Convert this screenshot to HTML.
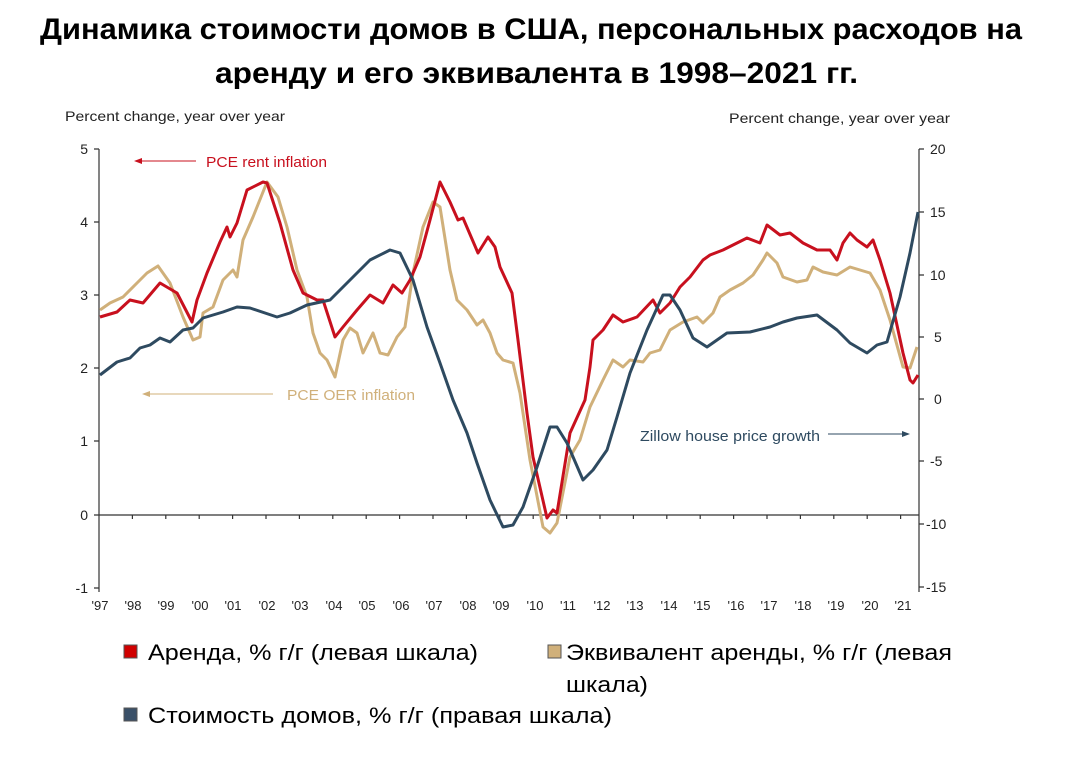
<!DOCTYPE html>
<html><head><meta charset="utf-8"><style>
body{margin:0;width:1072px;height:752px;background:#fff;overflow:hidden;font-family:"Liberation Sans",sans-serif}
</style></head><body>
<svg width="1072" height="752" xmlns="http://www.w3.org/2000/svg" font-family="Liberation Sans, sans-serif">
<text x="40" y="39" font-size="30" font-weight="bold" textLength="982" lengthAdjust="spacingAndGlyphs">Динамика стоимости домов в США, персональных расходов на</text>
<text x="215" y="83" font-size="30" font-weight="bold" textLength="643" lengthAdjust="spacingAndGlyphs">аренду и его эквивалента в 1998–2021 гг.</text>
<text x="65" y="121" font-size="14" fill="#222" textLength="220" lengthAdjust="spacingAndGlyphs">Percent change,  year over year</text>
<text x="729" y="123" font-size="14" fill="#222" textLength="221" lengthAdjust="spacingAndGlyphs">Percent change,  year over year</text>
<g stroke="#333" stroke-width="1.2" fill="none">
<line x1="99" y1="149" x2="99" y2="592"/>
<line x1="919" y1="149" x2="919" y2="592"/>
<line x1="99" y1="515" x2="919" y2="515"/>
<path d="M94 149h5M94 222h5M94 295h5M94 368h5M94 441h5M94 515h5M94 588h5"/>
<path d="M919 149h5M919 212h5M919 275h5M919 337h5M919 399h5M919 461h5M919 524h5M919 587h5"/>
<path d="M132.4 515v4M165.8 515v4M199.2 515v4M232.6 515v4M266 515v4M299.4 515v4M332.8 515v4M366.2 515v4M399.6 515v4M433 515v4M466.4 515v4M499.8 515v4M533.2 515v4M566.6 515v4M600 515v4M633.4 515v4M666.8 515v4M700.2 515v4M733.6 515v4M767 515v4M800.4 515v4M833.8 515v4M867.2 515v4M900.6 515v4"/>
</g>
<g font-size="14" fill="#222" text-anchor="end">
<text x="88" y="154">5</text><text x="88" y="227">4</text><text x="88" y="300">3</text><text x="88" y="373">2</text><text x="88" y="446">1</text><text x="88" y="520">0</text><text x="88" y="593">-1</text>
</g>
<g font-size="14" fill="#222">
<text x="930" y="154">20</text><text x="930" y="217">15</text><text x="930" y="280">10</text><text x="934" y="342">5</text><text x="934" y="404">0</text><text x="930" y="466">-5</text><text x="926" y="529">-10</text><text x="926" y="592">-15</text>
</g>
<g font-size="13" fill="#222" text-anchor="middle">
<text x="100" y="610">'97</text><text x="133" y="610">'98</text><text x="166" y="610">'99</text><text x="200" y="610">'00</text><text x="233" y="610">'01</text><text x="267" y="610">'02</text><text x="300" y="610">'03</text><text x="334" y="610">'04</text><text x="367" y="610">'05</text><text x="401" y="610">'06</text><text x="434" y="610">'07</text><text x="468" y="610">'08</text><text x="501" y="610">'09</text><text x="535" y="610">'10</text><text x="568" y="610">'11</text><text x="602" y="610">'12</text><text x="635" y="610">'13</text><text x="669" y="610">'14</text><text x="702" y="610">'15</text><text x="736" y="610">'16</text><text x="769" y="610">'17</text><text x="803" y="610">'18</text><text x="836" y="610">'19</text><text x="870" y="610">'20</text><text x="903" y="610">'21</text>
</g>
<g fill="none" stroke-width="3" stroke-linejoin="round">
<polyline stroke="#d0b07a" points="100,310 110,303 123,297 137,283 147,273 158,266 170,283 183,317 193,340 200,337 203,313 213,307 223,280 233,270 237,277 243,240 253,217 267,182 278,197 287,227 297,270 307,297 313,333 320,353 327,360 335,377 343,340 350,328 357,333 363,353 373,333 380,353 388,355 397,337 405,327 413,273 423,227 433,202 440,207 450,270 457,300 467,310 477,325 483,320 490,333 497,353 503,360 513,363 520,393 530,460 543,527 550,533 557,523 570,457 580,440 590,407 603,380 613,360 623,367 630,360 643,362 650,353 660,350 670,330 683,322 697,317 703,323 713,313 720,297 730,290 743,283 753,275 763,260 767,253 777,263 783,277 797,282 807,280 813,267 823,272 837,275 850,267 860,270 870,273 880,290 890,320 903,367 910,368 917,347"/>
<polyline stroke="#c8101e" points="100,317 117,312 130,300 143,303 160,283 177,293 192,322 197,300 207,273 220,242 227,227 230,237 237,223 247,190 263,182 267,183 280,223 293,270 303,293 317,300 323,300 335,337 343,327 357,310 370,295 383,303 393,285 402,293 410,280 420,257 430,220 440,182 450,202 458,220 463,218 478,253 488,237 495,247 500,267 512,293 518,340 527,413 533,457 547,518 553,510 557,513 570,433 585,400 590,367 593,340 603,330 613,315 623,322 637,317 653,300 660,313 670,303 680,287 690,277 703,260 710,255 723,250 737,243 747,238 760,243 767,225 780,235 790,233 803,243 817,250 830,250 837,260 843,243 850,233 857,240 867,247 873,240 880,260 890,293 903,353 910,380 913,383 918,375"/>
<polyline stroke="#2e4a60" points="100,375 117,362 130,358 140,348 150,345 160,338 170,342 183,330 193,328 203,318 223,312 237,307 250,308 277,317 290,313 307,305 330,300 343,287 357,273 370,260 390,250 400,253 413,280 427,327 440,363 453,400 467,433 477,463 490,500 503,527 513,525 523,507 537,467 550,427 557,427 567,443 583,480 593,470 607,450 617,417 630,373 647,330 663,295 670,295 680,310 693,338 707,347 727,333 750,332 770,327 783,322 797,318 817,315 837,330 850,343 867,353 877,345 887,342 900,297 910,253 918,212"/>
</g>
<g font-size="14">
<line x1="138" y1="161" x2="196" y2="161" stroke="#c8101e"/><path d="M134 161l8-3v6z" fill="#c8101e"/>
<text x="206" y="167" fill="#c8101e" font-size="15" textLength="121" lengthAdjust="spacingAndGlyphs">PCE  rent  inflation</text>
<line x1="146" y1="394" x2="273" y2="394" stroke="#d0b07a"/><path d="M142 394l8-3v6z" fill="#d0b07a"/>
<text x="287" y="400" fill="#d0b07a" font-size="15" textLength="128" lengthAdjust="spacingAndGlyphs">PCE  OER  inflation</text>
<text x="640" y="441" fill="#2e4a60" font-size="15" textLength="180" lengthAdjust="spacingAndGlyphs">Zillow  house  price  growth</text>
<line x1="828" y1="434" x2="903" y2="434" stroke="#2e4a60"/><path d="M910 434l-8-3v6z" fill="#2e4a60"/>
</g>
<g font-size="22" fill="#000">
<rect x="124" y="645" width="13" height="13" fill="#d00000" stroke="#555"/>
<text x="148" y="660" textLength="330" lengthAdjust="spacingAndGlyphs">Аренда, % г/г (левая шкала)</text>
<rect x="548" y="645" width="13" height="13" fill="#d0b07a" stroke="#555"/>
<text x="566" y="660" textLength="386" lengthAdjust="spacingAndGlyphs">Эквивалент аренды, % г/г (левая</text>
<text x="566" y="692" textLength="82" lengthAdjust="spacingAndGlyphs">шкала)</text>
<rect x="124" y="708" width="13" height="13" fill="#3a5068" stroke="#555"/>
<text x="148" y="723" textLength="464" lengthAdjust="spacingAndGlyphs">Стоимость домов, % г/г (правая шкала)</text>
</g>
</svg>
</body></html>
